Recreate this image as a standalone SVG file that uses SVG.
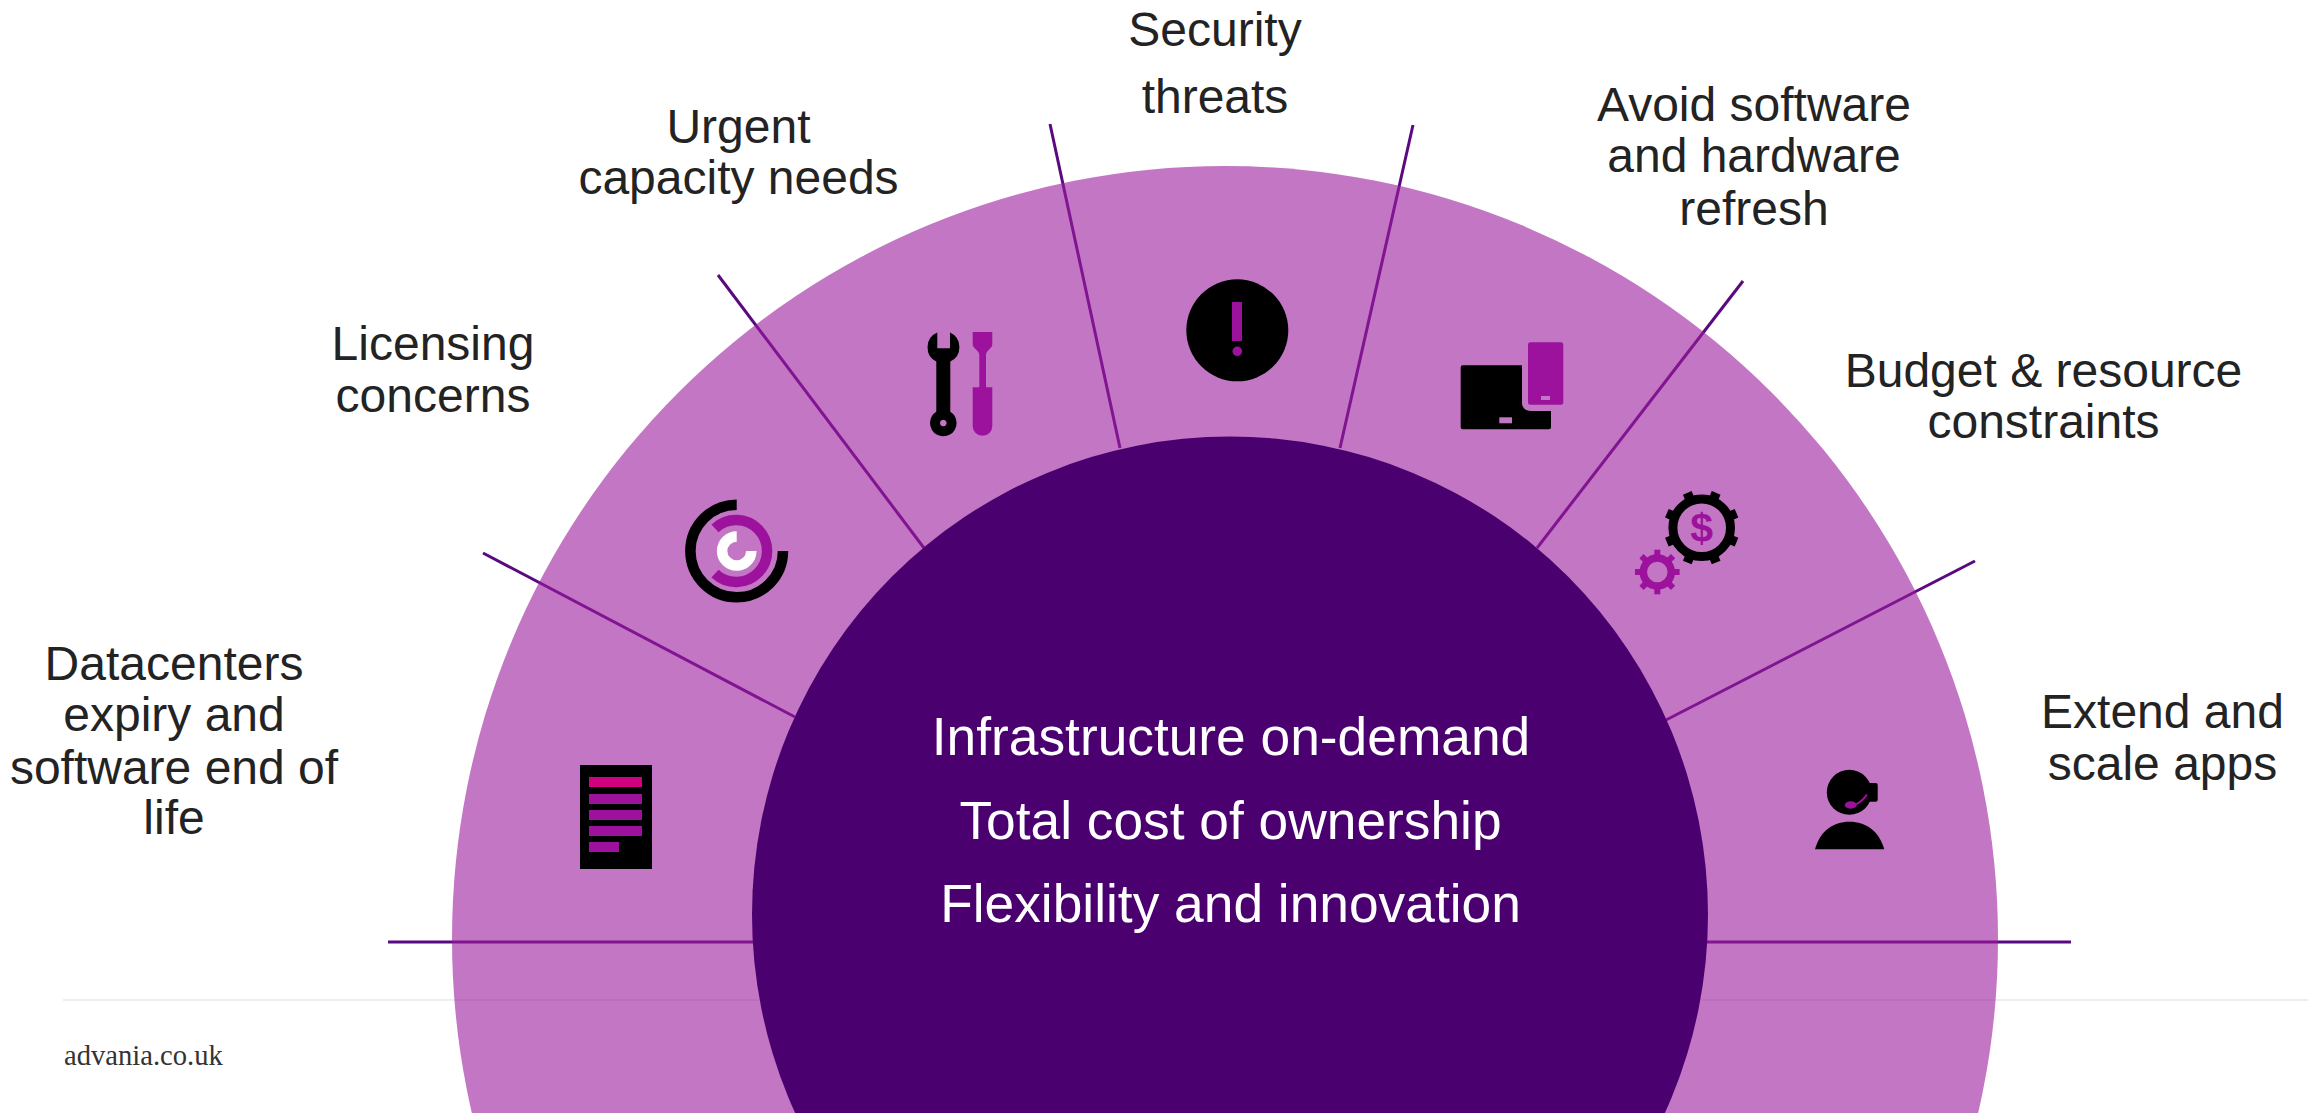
<svg xmlns="http://www.w3.org/2000/svg" width="2308" height="1113" viewBox="0 0 2308 1113">
<style>
text{font-family:"Liberation Sans",Arial,sans-serif;text-anchor:middle}
.l{font-size:48px;fill:#232323}
.c{font-size:53.3px;fill:#fff}
.p{fill:#9c129c}
.k{fill:#000}
.b{fill:#c376c4}
.arc{fill:none;stroke-width:10.5}
.ln{stroke:#5a0a80;stroke-width:3;fill:none}
</style>
<rect width="2308" height="1113" fill="#fff"/>
<rect id="footer-rule" x="63" y="999" width="2245" height="2" fill="#eeeeef"/>
<g id="connectors">
<path class="ln" d="M388 942H2071"/>
<path class="ln" d="M483 553L795 717"/>
<path class="ln" d="M718 275L924 548"/>
<path class="ln" d="M1050 124L1120 448"/>
<path class="ln" d="M1413 125L1340 448"/>
<path class="ln" d="M1743 281L1537 548"/>
<path class="ln" d="M1975 561L1666 720"/>
</g>
<circle id="outer-ring" cx="1225" cy="939" r="773" fill="#9b1b9d" fill-opacity="0.6"/>
<g id="hub">
<circle cx="1230" cy="914.5" r="478" fill="#4b0070"/>
<text class="c" x="1231" y="754.5">Infrastructure on-demand</text>
<text class="c" x="1230.5" y="838.5">Total cost of ownership</text>
<text class="c" x="1230.5" y="921.5">Flexibility and innovation</text>
</g>
<g id="node-datacenters">
<rect class="k" x="580" y="765" width="72" height="104"/>
<rect x="589" y="777" width="53" height="10" fill="#d0007f"/>
<rect class="p" x="589" y="794" width="53" height="10"/>
<rect class="p" x="589" y="810" width="53" height="10"/>
<rect class="p" x="589" y="826" width="53" height="10"/>
<rect class="p" x="589" y="842" width="30" height="10"/>
<text class="l" x="174" y="679.5">Datacenters</text>
<text class="l" x="174" y="731">expiry and</text>
<text class="l" x="174" y="784">software end of</text>
<text class="l" x="174" y="834">life</text>
</g>
<g id="node-licensing">
<path class="arc" stroke="#000" d="M736.7 504.7A46.3 46.3 0 1 0 783 551"/>
<path class="arc" stroke="#9c129c" d="M715 528.3A31 31 0 1 1 715 573.7"/>
<path class="arc" stroke="#fff" stroke-width="9.5" d="M736.7 536.4A14.6 14.6 0 1 0 751.3 551"/>
<text class="l" x="433" y="360">Licensing</text>
<text class="l" x="433" y="412">concerns</text>
</g>
<g id="node-capacity">
<path class="k" d="M937.3 332.6A16 16 0 0 0 936.3 361.6V414H950.3V361.6A16 16 0 0 0 950 332.6V348.3H937.3Z"/>
<path class="k" fill-rule="evenodd" d="M943.3 409.7a13.3 13.3 0 1 0 .01 0ZM943.3 419.7a3.3 3.3 0 1 1-.01 0Z"/>
<path class="p" d="M972.7 332H992.3V344C992.3 349 986 350 986 355V387.3H992.3V426A9.8 9.8 0 0 1 972.7 426V387.3H979.3V355C979.3 350 972.7 349 972.7 344Z"/>
<text class="l" x="738.5" y="142.5">Urgent</text>
<text class="l" x="738.5" y="194">capacity needs</text>
</g>
<g id="node-security">
<circle class="k" cx="1237.3" cy="330.3" r="51"/>
<rect class="p" x="1232" y="302" width="10" height="39"/>
<circle class="p" cx="1237.3" cy="351.3" r="4.8"/>
<text class="l" x="1215" y="45.5">Security</text>
<text class="l" x="1215" y="113">threats</text>
</g>
<g id="node-refresh">
<path class="k" d="M1462.7 365.3H1522V403C1522 408 1526 411 1531 411H1551V427.3Q1551 429.3 1549 429.3H1462.7Q1460.7 429.3 1460.7 427.3V367.3Q1460.7 365.3 1462.7 365.3Z"/>
<rect class="b" x="1499.3" y="417.3" width="12.7" height="6"/>
<rect class="p" x="1528" y="342.3" width="35.3" height="62.4" rx="2.5"/>
<rect class="b" x="1541" y="396" width="9" height="4"/>
<text class="l" x="1754" y="121">Avoid software</text>
<text class="l" x="1754" y="172">and hardware</text>
<text class="l" x="1754" y="225">refresh</text>
</g>
<g id="node-budget">
<circle cx="1701.7" cy="527.7" r="28.8" fill="none" stroke="#000" stroke-width="9"/>
<g class="k">
<rect x="1697" y="490" width="9.4" height="10" transform="rotate(22.5 1701.7 527.7)"/>
<rect x="1697" y="490" width="9.4" height="10" transform="rotate(67.5 1701.7 527.7)"/>
<rect x="1697" y="490" width="9.4" height="10" transform="rotate(112.5 1701.7 527.7)"/>
<rect x="1697" y="490" width="9.4" height="10" transform="rotate(157.5 1701.7 527.7)"/>
<rect x="1697" y="490" width="9.4" height="10" transform="rotate(202.5 1701.7 527.7)"/>
<rect x="1697" y="490" width="9.4" height="10" transform="rotate(247.5 1701.7 527.7)"/>
<rect x="1697" y="490" width="9.4" height="10" transform="rotate(292.5 1701.7 527.7)"/>
<rect x="1697" y="490" width="9.4" height="10" transform="rotate(337.5 1701.7 527.7)"/>
</g>
<text x="1701.7" y="541.5" font-size="41" font-weight="700" fill="#9c129c">$</text>
<circle cx="1657.3" cy="572" r="14" fill="none" stroke="#9c129c" stroke-width="7.5"/>
<g class="p">
<rect x="1654.3" y="549.7" width="6" height="7" transform="rotate(0 1657.3 572)"/>
<rect x="1654.3" y="549.7" width="6" height="7" transform="rotate(45 1657.3 572)"/>
<rect x="1654.3" y="549.7" width="6" height="7" transform="rotate(90 1657.3 572)"/>
<rect x="1654.3" y="549.7" width="6" height="7" transform="rotate(135 1657.3 572)"/>
<rect x="1654.3" y="549.7" width="6" height="7" transform="rotate(180 1657.3 572)"/>
<rect x="1654.3" y="549.7" width="6" height="7" transform="rotate(225 1657.3 572)"/>
<rect x="1654.3" y="549.7" width="6" height="7" transform="rotate(270 1657.3 572)"/>
<rect x="1654.3" y="549.7" width="6" height="7" transform="rotate(315 1657.3 572)"/>
</g>
<text class="l" x="2043.5" y="387">Budget &amp; resource</text>
<text class="l" x="2043.5" y="438">constraints</text>
</g>
<g id="node-extend">
<circle class="k" cx="1849.3" cy="792.3" r="22.5"/>
<path class="k" d="M1868 783H1875.7Q1877.7 783 1877.7 785V799.7Q1877.7 801.7 1875.7 801.7H1868Z"/>
<path class="k" d="M1815 849.3C1820 831 1833 821.7 1849.5 821.7C1866 821.7 1879 831 1884.3 849.3Z"/>
<ellipse class="p" cx="1850.7" cy="805" rx="6" ry="3.7"/>
<path d="M1854 805C1860 803 1864 799 1867 794.5" fill="none" stroke="#9c129c" stroke-width="2"/>
<text class="l" x="2162.5" y="728">Extend and</text>
<text class="l" x="2162.5" y="780">scale apps</text>
</g>
<text id="site" x="64" y="1065" font-size="28.6" fill="#333" style="font-family:'Liberation Serif',serif;text-anchor:start">advania.co.uk</text>
</svg>
